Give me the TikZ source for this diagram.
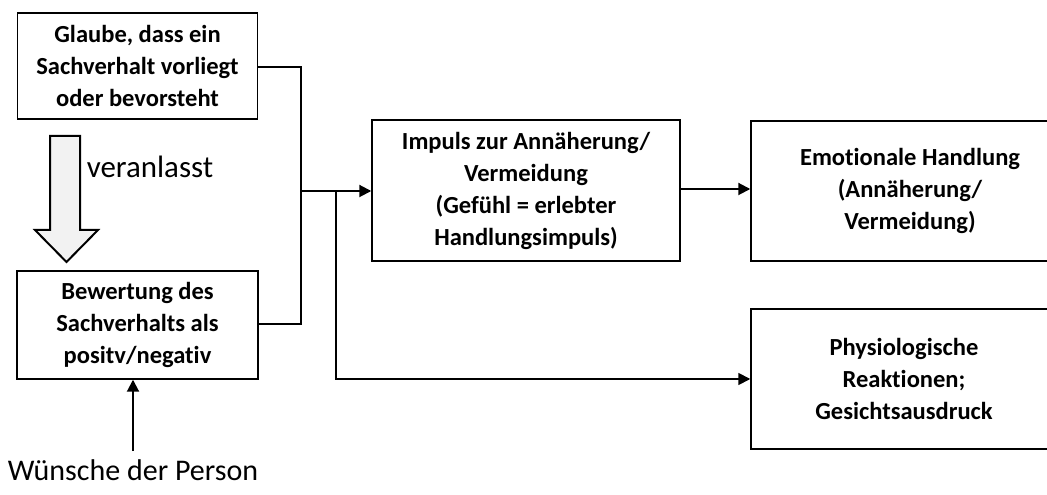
\documentclass[tikz,border=0pt]{standalone}
\usepackage{fontspec}
\setmainfont{Carlito}[Ligatures=NoCommon]
\usetikzlibrary{arrows.meta}
\begin{document}
\begin{tikzpicture}[x=0.75pt,y=-0.75pt,
  box/.style={draw=black,line width=1.1pt,align=center,inner sep=0pt,font=\fontsize{18.4}{24}\selectfont\bfseries},
  conn/.style={line width=1.5pt},
  arr/.style={line width=1.5pt,-{Triangle[length=9pt,width=9pt]}},
  plain/.style={inner sep=0pt}]
\useasboundingbox (0,0) rectangle (1047,495);
\begin{scope}
\clip (0,0) rectangle (1047,495);
\node[box,minimum width=180pt,minimum height=79.5pt] (glaube) at (137.5,66) {Glaube, dass ein\\Sachverhalt vorliegt\\oder bevorsteht};
\node[box,minimum width=180.75pt,minimum height=81pt] (bew) at (137.5,325) {Bewertung des\\Sachverhalts als\\positv/negativ};
\node[box,minimum width=231pt,minimum height=105.75pt] (impuls) at (526,190.5) {Impuls zur Annäherung/\\Vermeidung\\(Gefühl = erlebter\\Handlungsimpuls)};
\node[box,minimum width=238.5pt,minimum height=105pt] (emo) at (910,191) {Emotionale Handlung\\(Annäherung/\\Vermeidung)};
\node[box,minimum width=229.5pt,minimum height=105pt] (phys) at (904,379) {Physiologische\\Reaktionen;\\Gesichtsausdruck};
\end{scope}
% hollow arrow
\draw[line width=1.5pt,fill=black!5] (50,136) -- (80,136) -- (80,230) -- (98,230) -- (66.5,262) -- (35,230) -- (50,230) -- cycle;
\node[plain,font=\fontsize{23.2}{26}\selectfont] (veranl) at (150,167) {veranlasst};
\node[plain,font=\fontsize{22.5}{28}\selectfont] (wuensche) at (133,470) {Wünsche der Person};
% connectors
\coordinate (j1) at (301,191);
\coordinate (j2) at (336,191);
\draw[conn] (glaube.east |- 0,67) -| (j1) |- (bew.east |- 0,324);
\draw[arr] (j1) -- (impuls.west |- j1);
\draw[line width=1.3pt,-{Triangle[length=9pt,width=9pt]}] (j2) |- (phys.west);
\draw[arr] (impuls.east |- 0,189) -- (emo.west |- 0,189);
\draw[arr] (wuensche.north -| 133,0) ++(0,-8) -- (bew.south -| 133,0);
\end{tikzpicture}
\end{document}
